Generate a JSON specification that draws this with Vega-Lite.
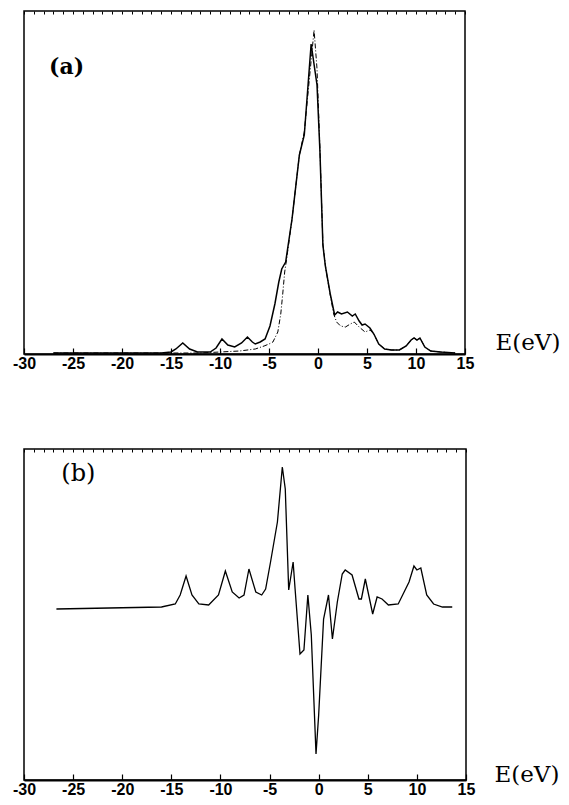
{
  "$schema": "https://vega.github.io/schema/vega-lite/v6.json",
  "padding": {"left": 11, "top": 9, "right": 0, "bottom": 0},
  "background": "white",
  "config": {"view": {"stroke": "black", "strokeWidth": 1.5}},
  "spacing": 95,
  "bounds": "flush",
  "datasets": {
    "a": [
      {"E": -27, "v": 1, "s": "calc"}, {"E": -16, "v": 1, "s": "calc"}, {"E": -15, "v": 2, "s": "calc"}, {"E": -14.5, "v": 5, "s": "calc"}, {"E": -13.8, "v": 11, "s": "calc"}, {"E": -13.1, "v": 5, "s": "calc"}, {"E": -12.3, "v": 2, "s": "calc"}, {"E": -11, "v": 2, "s": "calc"}, {"E": -10.4, "v": 6, "s": "calc"}, {"E": -9.8, "v": 15, "s": "calc"}, {"E": -9.2, "v": 9, "s": "calc"}, {"E": -8.5, "v": 7, "s": "calc"}, {"E": -7.8, "v": 11, "s": "calc"}, {"E": -7.2, "v": 17, "s": "calc"}, {"E": -6.7, "v": 12, "s": "calc"}, {"E": -6.4, "v": 10, "s": "calc"}, {"E": -5.9, "v": 12, "s": "calc"}, {"E": -5.4, "v": 15, "s": "calc"}, {"E": -4.9, "v": 28, "s": "calc"}, {"E": -4.4, "v": 50, "s": "calc"}, {"E": -4.0, "v": 72, "s": "calc"}, {"E": -3.7, "v": 85, "s": "calc"}, {"E": -3.3, "v": 92, "s": "calc"}, {"E": -2.65, "v": 135, "s": "calc"}, {"E": -1.9, "v": 199, "s": "calc"}, {"E": -1.4, "v": 219, "s": "calc"}, {"E": -0.7, "v": 310, "s": "calc"}, {"E": -0.1, "v": 269, "s": "calc"}, {"E": 0.2, "v": 202, "s": "calc"}, {"E": 0.5, "v": 109, "s": "calc"}, {"E": 0.75, "v": 88, "s": "calc"}, {"E": 1.25, "v": 60, "s": "calc"}, {"E": 1.7, "v": 39, "s": "calc"}, {"E": 2.0, "v": 42, "s": "calc"}, {"E": 2.4, "v": 40, "s": "calc"}, {"E": 3.0, "v": 42, "s": "calc"}, {"E": 3.5, "v": 38, "s": "calc"}, {"E": 3.8, "v": 40, "s": "calc"}, {"E": 4.2, "v": 33, "s": "calc"}, {"E": 4.5, "v": 29, "s": "calc"}, {"E": 4.8, "v": 30, "s": "calc"}, {"E": 5.3, "v": 26, "s": "calc"}, {"E": 5.7, "v": 20, "s": "calc"}, {"E": 6.2, "v": 10, "s": "calc"}, {"E": 6.8, "v": 5, "s": "calc"}, {"E": 7.5, "v": 4, "s": "calc"}, {"E": 8.3, "v": 4, "s": "calc"}, {"E": 9.0, "v": 8, "s": "calc"}, {"E": 9.5, "v": 14, "s": "calc"}, {"E": 9.8, "v": 16, "s": "calc"}, {"E": 10.1, "v": 14, "s": "calc"}, {"E": 10.4, "v": 16, "s": "calc"}, {"E": 10.9, "v": 7, "s": "calc"}, {"E": 11.5, "v": 3, "s": "calc"}, {"E": 12.5, "v": 2, "s": "calc"}, {"E": 14, "v": 1, "s": "calc"},
      {"E": -27, "v": 1, "s": "exp"}, {"E": -15, "v": 1, "s": "exp"}, {"E": -12, "v": 1, "s": "exp"}, {"E": -10, "v": 2, "s": "exp"}, {"E": -8, "v": 3, "s": "exp"}, {"E": -6.4, "v": 5, "s": "exp"}, {"E": -5.5, "v": 8, "s": "exp"}, {"E": -5.0, "v": 10, "s": "exp"}, {"E": -4.6, "v": 12, "s": "exp"}, {"E": -4.1, "v": 22, "s": "exp"}, {"E": -3.8, "v": 40, "s": "exp"}, {"E": -3.6, "v": 60, "s": "exp"}, {"E": -3.4, "v": 82, "s": "exp"}, {"E": -3.2, "v": 95, "s": "exp"}, {"E": -2.65, "v": 135, "s": "exp"}, {"E": -1.9, "v": 199, "s": "exp"}, {"E": -1.4, "v": 222, "s": "exp"}, {"E": -0.4, "v": 324, "s": "exp"}, {"E": -0.1, "v": 285, "s": "exp"}, {"E": 0.2, "v": 205, "s": "exp"}, {"E": 0.5, "v": 110, "s": "exp"}, {"E": 0.8, "v": 85, "s": "exp"}, {"E": 1.25, "v": 59, "s": "exp"}, {"E": 1.6, "v": 40, "s": "exp"}, {"E": 1.9, "v": 32, "s": "exp"}, {"E": 2.3, "v": 28, "s": "exp"}, {"E": 2.8, "v": 27, "s": "exp"}, {"E": 3.3, "v": 30, "s": "exp"}, {"E": 3.7, "v": 32, "s": "exp"}, {"E": 4.2, "v": 27, "s": "exp"}, {"E": 4.8, "v": 22, "s": "exp"}, {"E": 5.3, "v": 24, "s": "exp"}, {"E": 5.7, "v": 20, "s": "exp"}, {"E": 6.2, "v": 10, "s": "exp"}, {"E": 6.8, "v": 5, "s": "exp"}, {"E": 7.5, "v": 4, "s": "exp"}, {"E": 8.3, "v": 4, "s": "exp"}, {"E": 9.0, "v": 8, "s": "exp"}, {"E": 9.5, "v": 14, "s": "exp"}, {"E": 9.8, "v": 16, "s": "exp"}, {"E": 10.1, "v": 14, "s": "exp"}, {"E": 10.4, "v": 16, "s": "exp"}, {"E": 10.9, "v": 7, "s": "exp"}, {"E": 11.5, "v": 3, "s": "exp"}, {"E": 12.5, "v": 2, "s": "exp"}, {"E": 14, "v": 1, "s": "exp"}
    ],
    "b": [
      {"E": -26.7, "v": 0}, {"E": -16.0, "v": 2}, {"E": -14.6, "v": 5}, {"E": -14.1, "v": 14}, {"E": -13.5, "v": 33}, {"E": -12.9, "v": 14}, {"E": -12.2, "v": 5}, {"E": -11.2, "v": 4}, {"E": -10.2, "v": 14}, {"E": -9.5, "v": 38}, {"E": -8.8, "v": 17}, {"E": -8.1, "v": 11}, {"E": -7.6, "v": 14}, {"E": -7.1, "v": 40}, {"E": -6.4, "v": 17}, {"E": -5.8, "v": 14}, {"E": -5.4, "v": 20}, {"E": -4.9, "v": 47}, {"E": -4.2, "v": 87}, {"E": -3.7, "v": 142}, {"E": -3.4, "v": 120}, {"E": -3.05, "v": 19}, {"E": -2.6, "v": 47}, {"E": -2.4, "v": 20}, {"E": -1.9, "v": -45}, {"E": -1.5, "v": -41}, {"E": -1.1, "v": 14}, {"E": -0.75, "v": -26}, {"E": -0.27, "v": -145}, {"E": 0.0, "v": -106}, {"E": 0.5, "v": -10}, {"E": 1.0, "v": 14}, {"E": 1.4, "v": -30}, {"E": 1.9, "v": 7}, {"E": 2.4, "v": 35}, {"E": 2.7, "v": 39}, {"E": 3.4, "v": 34}, {"E": 4.1, "v": 10}, {"E": 4.35, "v": 10}, {"E": 4.75, "v": 30}, {"E": 5.5, "v": -5}, {"E": 5.95, "v": 12}, {"E": 6.45, "v": 10}, {"E": 7.1, "v": 4}, {"E": 8.1, "v": 5}, {"E": 9.2, "v": 27}, {"E": 9.7, "v": 43}, {"E": 10.0, "v": 39}, {"E": 10.4, "v": 41}, {"E": 11.0, "v": 14}, {"E": 11.7, "v": 5}, {"E": 12.6, "v": 2}, {"E": 13.6, "v": 2}
    ]
  },
  "vconcat": [
    {
      "width": 441,
      "height": 343,
      "resolve": {"axis": {"x": "independent"}},
      "layer": [
        {
          "data": {"name": "a"},
          "transform": [{"filter": "datum.s === 'exp'"}],
          "mark": {"type": "line", "color": "black", "strokeWidth": 1, "strokeDash": [5, 2, 1, 2]},
          "encoding": {
            "x": {"field": "E", "type": "quantitative", "scale": {"domain": [-30, 15], "nice": false, "zero": false}, "axis": null},
            "y": {"field": "v", "type": "quantitative", "scale": {"domain": [0, 343], "nice": false}, "axis": null}
          }
        },
        {
          "data": {"name": "a"},
          "transform": [{"filter": "datum.s === 'calc'"}],
          "mark": {"type": "line", "color": "black", "strokeWidth": 1.5},
          "encoding": {
            "x": {"field": "E", "type": "quantitative",
              "axis": {"values": [-30, -25, -20, -15, -10, -5, 0, 5, 10, 15], "labelExpr": "'' + datum.value", "tickSize": -6, "tickColor": "black", "tickWidth": 1.2, "domainColor": "black", "domainWidth": 2, "grid": false, "labelFont": "Liberation Sans", "labelFontWeight": "bold", "labelFontSize": 16, "labelColor": "black", "labelPadding": 7, "labelFlush": false, "labelOverlap": false, "title": "E(eV)", "titleFont": "DejaVu Serif", "titleFontSize": 23, "titleFontWeight": "normal", "titleColor": "black", "titleAlign": "left", "titleAnchor": "start", "titleX": 471, "titleY": -5, "titleBaseline": "alphabetic"}},
            "y": {"field": "v", "type": "quantitative", "axis": null}
          }
        },
        {
          "data": {"values": [{}]},
          "mark": {"type": "text", "text": "(a)", "align": "left", "baseline": "middle", "font": "DejaVu Serif", "fontWeight": "bold", "fontSize": 22, "color": "black"},
          "encoding": {
            "x": {"datum": -27.45, "type": "quantitative",
              "axis": {"values": [-30,-29,-28,-27,-26,-25,-24,-23,-22,-21,-20,-19,-18,-17,-16,-15,-14,-13,-12,-11,-10,-9,-8,-7,-6,-5,-4,-3,-2,-1,0,1,2,3,4,5,6,7,8,9,10,11,12,13,14,15], "tickSize": -3, "tickColor": "black", "tickWidth": 1, "labels": false, "domain": false, "grid": false, "title": null}},
            "y": {"datum": 287, "type": "quantitative"}
          }
        }
      ]
    },
    {
      "width": 442,
      "height": 331,
      "resolve": {"axis": {"x": "independent"}},
      "layer": [
        {
          "data": {"name": "b"},
          "mark": {"type": "line", "color": "black", "strokeWidth": 1.3},
          "encoding": {
            "x": {"field": "E", "type": "quantitative", "scale": {"domain": [-30, 15], "nice": false, "zero": false},
              "axis": {"values": [-30, -25, -20, -15, -10, -5, 0, 5, 10, 15], "labelExpr": "'' + datum.value", "tickSize": -6, "tickColor": "black", "tickWidth": 1.2, "domainColor": "black", "domainWidth": 2, "grid": false, "labelFont": "Liberation Sans", "labelFontWeight": "bold", "labelFontSize": 16, "labelColor": "black", "labelPadding": 7, "labelFlush": false, "labelOverlap": false, "title": "E(eV)", "titleFont": "DejaVu Serif", "titleFontSize": 23, "titleFontWeight": "normal", "titleColor": "black", "titleAlign": "left", "titleAnchor": "start", "titleX": 470, "titleY": 1, "titleBaseline": "alphabetic"}},
            "y": {"field": "v", "type": "quantitative", "scale": {"domain": [-171, 160], "nice": false, "zero": false}, "axis": null}
          }
        },
        {
          "data": {"values": [{}]},
          "mark": {"type": "text", "text": "(b)", "align": "left", "baseline": "middle", "font": "DejaVu Serif", "fontWeight": "normal", "fontSize": 24, "color": "black"},
          "encoding": {
            "x": {"datum": -26.2, "type": "quantitative",
              "axis": {"values": [-30,-29,-28,-27,-26,-25,-24,-23,-22,-21,-20,-19,-18,-17,-16,-15,-14,-13,-12,-11,-10,-9,-8,-7,-6,-5,-4,-3,-2,-1,0,1,2,3,4,5,6,7,8,9,10,11,12,13,14,15], "tickSize": -3, "tickColor": "black", "tickWidth": 1, "labels": false, "domain": false, "grid": false, "title": null}},
            "y": {"datum": 135, "type": "quantitative"}
          }
        }
      ]
    }
  ]
}
